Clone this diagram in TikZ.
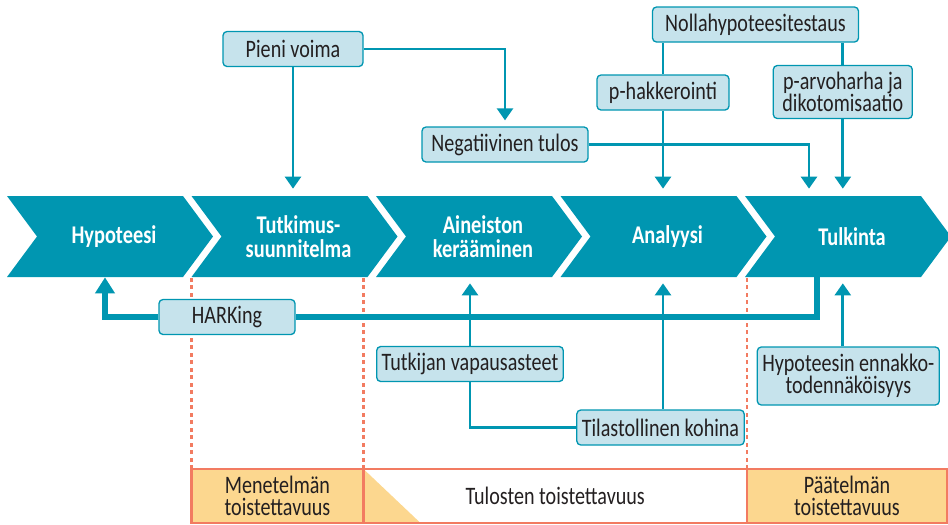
\documentclass[tikz,border=0pt]{standalone}
\usepackage{fontspec}
\setmainfont{Carlito}[FakeStretch=0.8]
\usepackage{tikz}
\usetikzlibrary{arrows.meta,positioning,calc,backgrounds}
\definecolor{chevteal}{HTML}{0096B1}
\definecolor{boxblue}{HTML}{C6E3EC}
\definecolor{ink}{HTML}{231F20}
\definecolor{salmon}{HTML}{F27B61}
\definecolor{cellfill}{HTML}{FCD78F}
\newcommand\cellfont{\fontsize{14.3}{12.8}\selectfont}
\newcommand\chevfont{\bfseries\fontsize{14.5}{13.7}\selectfont}
\tikzset{
  chevlabel/.style ={minimum height=16.2mm,inner sep=0pt,align=center,text=white,font=\chevfont},
  infobox/.style   ={draw=chevteal,fill=boxblue,line width=0.75pt,rounded corners=0.8mm,
                     minimum height=7mm,inner sep=1mm,align=center,text=ink,font=\cellfont},
  flow/.style      ={draw=chevteal,line width=1.5pt},
  flowarrow/.style ={flow,-{Triangle[length=2.4mm,width=3.2mm]}},
  harkline/.style  ={draw=chevteal,line width=3.7pt},
  reprocell/.style ={draw=salmon,line width=1.2pt,minimum height=10.8mm,inner sep=0pt,
                     outer sep=0pt,align=center,text=ink,font=\cellfont},
  guide/.style     ={draw=salmon,line width=1.3pt,dash pattern=on 0.8mm off 0.7mm},
}

\begin{document}
\begin{tikzpicture}[x=0.2mm,y=-0.2mm]
  \useasboundingbox (0,0) rectangle (948,524);
  % research process chevrons
  \foreach \x/\name/\txt in {7/hyp/Hypoteesi,191.5/tutk/{Tutkimus-\\suunnitelma},
      376/aine/{Aineiston\\kerääminen},560.5/anal/Analyysi,745/tulk/Tulkinta}{
     \fill[chevteal] (\x,196) -- ++(176,0) -- ++(30,40.5) -- ++(-30,40.5)
        -- ++(-176,0) -- ++(30,-40.5) -- cycle;
     \node[chevlabel] (\name) at (\x+107,236.5) {\txt};
  }
  % reproducibility bar
  \node[reprocell,fill=cellfill,minimum width=34.4mm] (meth) at (277.5,496) {Menetelmän\\toistettavuus};
  \node[reprocell,minimum width=76.7mm,right=0pt of meth] (res) {Tulosten toistettavuus};
  \node[reprocell,fill=cellfill,minimum width=40mm,right=0pt of res] (concl) {Päätelmän\\toistettavuus};
  \begin{scope}[on background layer]
    \fill[cellfill] (res.north west) -- (res.south west) -- ($(res.south west)+(57,0)$) -- cycle;
  \end{scope}
  \foreach \c in {meth,res,concl}{
     \draw[guide] (\c.north west) -- (\c.north west |- hyp.south);
  }
  % problem boxes
  \node[infobox,minimum width=28mm]   (pieni)   at (293,49)      {Pieni voima};
  \node[infobox,minimum width=33.2mm] (neg)     at (505,144.5)   {Negatiivinen tulos};
  \node[infobox,minimum width=41.2mm] (nolla)   at (755.5,24.5)  {Nollahypoteesitestaus};
  \node[infobox,minimum width=26.4mm] (phak)    at (663,92.5)    {p-hakkerointi};
  \node[infobox,minimum width=27.8mm,minimum height=10.6mm] (parvo) at (842.8,92) {p-arvoharha ja\\dikotomisaatio};
  \node[infobox,minimum width=27.2mm] (hark)    at (227,317)     {HARKing};
  \node[infobox,minimum width=37mm]   (tutkv)   at (470,364)     {Tutkijan vapausasteet};
  \node[infobox,minimum width=33mm]   (tilast)  at (660.5,427.5) {Tilastollinen kohina};
  \node[infobox,minimum width=35mm,minimum height=11.6mm] (ennakko) at (848.3,376) {Hypoteesin ennakko-\\todennäköisyys};
  % connectors from above
  \draw[flowarrow,shorten >=1.4mm] (pieni.south) -- (pieni.south |- tutk.north);
  \draw[flowarrow,shorten >=1.2mm] (pieni.east) -| (neg.north);
  \draw[flowarrow,shorten >=1.4mm] (neg.east) -| ($(tulk.north)+(-43,0)$);
  \draw[flow] (nolla.south -| phak.north) -- (phak.north);
  \draw[flow] (nolla.south -| parvo.north) -- (parvo.north);
  \draw[flowarrow,shorten >=1.4mm] (phak.south) -- (phak.south |- anal.north);
  \draw[flowarrow,shorten >=1.4mm] (parvo.south) -- (parvo.south |- tulk.north);
  % connectors from below
  \draw[harkline] ($(tulk.south)+(-35,0)$) |- (hark.east);
  \draw[harkline,-{Triangle[length=3.2mm,width=3.8mm]}] (hark.west) -| ($(hyp.south)+(-9,0)$);
  \draw[flowarrow,shorten >=1.2mm] (tutkv.north) -- (tutkv.north |- aine.south);
  \draw[flow] (tutkv.south) |- (tilast.west);
  \draw[flowarrow,shorten >=1.2mm] (tilast.north -| phak.south) -- (phak.south |- anal.south);
  \draw[flowarrow,shorten >=1.2mm] (ennakko.north -| parvo.south) -- (parvo.south |- tulk.south);
\end{tikzpicture}
\end{document}
